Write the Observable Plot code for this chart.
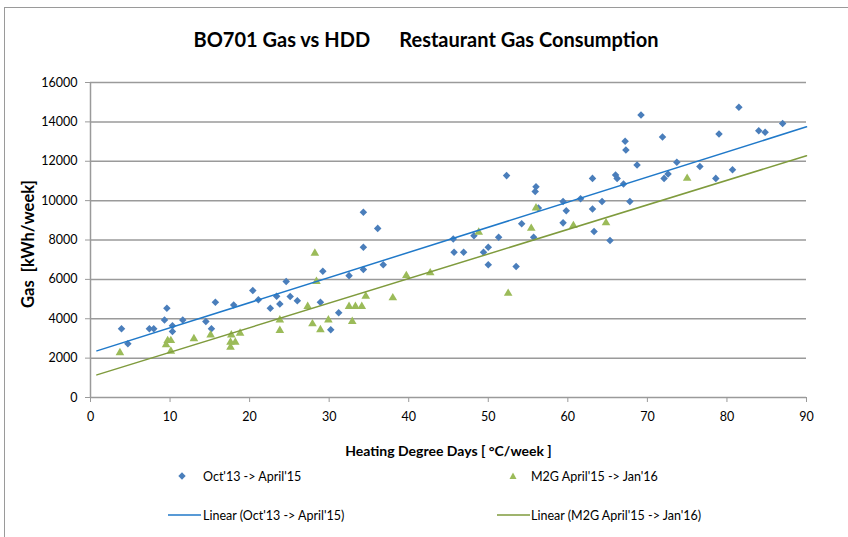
<!DOCTYPE html>
<html>
<head>
<meta charset="utf-8">
<script src="https://cdn.jsdelivr.net/npm/d3@7"></script>
<script src="https://cdn.jsdelivr.net/npm/@observablehq/plot@0.6"></script>
<style>
  body { margin: 0; background: #fff; }
  #wrap { position: relative; width: 848px; height: 537px; overflow: hidden; font-family: Lato, "Open Sans", sans-serif; }
  #frame { position: absolute; left: 4px; top: 7px; width: 900px; height: 600px; border-left: 1.5px solid #9a9a9a; border-top: 1.5px solid #9a9a9a; }
  #chart { position: absolute; left: 0; top: 0; }
  #title { position: absolute; top: 27px; left: 0; width: 852px; text-align: center; font-weight: bold; font-size: 20px; white-space: pre; color: #000; }
  .leg { position: absolute; font-size: 12.5px; color: #000; white-space: pre; line-height: 14px; }
  .legsym { position: absolute; }
</style>
</head>
<body>
<div id="wrap">
  <div id="frame"></div>
  <div id="chart"></div>
  <div id="title">BO701 Gas vs HDD      Restaurant Gas Consumption</div>
</div>
<script>
// ---- data ----
const blueX = [3.9,4.7,7.4,7.95,9.3,9.6,10.3,10.3,11.6,14.5,15.2,15.7,18.0,20.4,21.1,22.6,23.4,23.8,24.6,25.1,26.0,28.9,29.2,30.2,31.2,32.5,34.3,34.3,34.3,36.1,36.8,45.6,45.7,46.9,48.2,49.4,50.0,50.0,51.3,52.3,53.5,54.2,55.7,55.9,56.0,56.3,59.4,59.8,59.4,61.6,63.1,63.1,63.3,64.3,65.3,66.0,66.2,67.0,67.2,67.3,67.8,68.7,69.2,71.9,72.1,72.6,73.7,76.6,78.6,79.0,80.7,81.5,84.0,84.8,87.0];
const blueY = [3490,2730,3490,3490,3940,4530,3650,3350,3940,3860,3490,4840,4700,5430,4970,4530,5140,4750,5890,5130,4920,4840,6410,3440,4310,6190,7630,6500,9410,8590,6740,8050,7380,7380,8220,7380,7630,6740,8140,11270,6650,8820,8140,10460,10710,9630,9950,9490,8870,10090,11130,9580,8430,9950,7970,11300,11130,10850,13010,12570,9950,11810,14350,13230,11130,11350,11950,11730,11130,13380,11570,14740,13550,13470,13920];
const greenX = [3.7,9.5,9.7,10.1,10.1,13.0,15.1,17.6,17.6,17.7,18.2,18.8,23.8,23.8,27.3,27.9,28.2,28.4,28.9,29.9,32.5,32.9,33.3,34.1,34.6,38.0,39.7,42.7,48.8,52.5,55.4,56.0,60.7,64.8,75.0];
const greenY = [2270,2680,2890,2890,2350,2980,3180,2810,2550,3180,2810,3260,3940,3400,4620,3740,7330,5890,3440,3940,4620,3860,4620,4620,5140,5060,6190,6330,8390,5290,8590,9630,8730,8870,11130];
// trendline endpoints as drawn
const trendX = [0.8, 90];
const blueTrendY = [2370, 13750];
const greenTrendY = [1150, 12280];
const xTicks = [0,10,20,30,40,50,60,70,80,90];
const yTicks = [0,2000,4000,6000,8000,10000,12000,14000,16000];
const seriesNames = ["Oct'13 -> April'15", "M2G April'15 -> Jan'16"];
const trendNames = ["Linear (Oct'13 -> April'15)", "Linear (M2G April'15 -> Jan'16)"];

const blueColor = "#4a7ebb", greenColor = "#9bbb59";
const blueLine = "#2079c9", greenLine = "#7f9b3d";

const blue = blueX.map((x, i) => ({x, y: blueY[i]}));
const green = greenX.map((x, i) => ({x, y: greenY[i]}));
const bt = trendX.map((x, i) => ({x, y: blueTrendY[i]}));
const gt = trendX.map((x, i) => ({x, y: greenTrendY[i]}));

const chart = Plot.plot({
  width: 848,
  height: 537,
  marginLeft: 90,
  marginRight: 42,
  marginTop: 82,
  marginBottom: 140,
  style: {fontFamily: "Lato, 'Open Sans', sans-serif", fontSize: "12.5px", color: "#000", background: "transparent"},
  x: {domain: [0, 90], ticks: xTicks},
  y: {domain: [0, 16000], ticks: yTicks},
  marks: [
    Plot.ruleY(yTicks.filter(d => d > 0), {stroke: "#9a9a9a", strokeWidth: 1.5}),
    Plot.ruleX([0], {stroke: "#9a9a9a", strokeWidth: 1.5}),
    Plot.ruleY([0], {stroke: "#9a9a9a", strokeWidth: 1.5}),
    Plot.axisX({ticks: xTicks, tickSize: 5, tickPadding: 10, stroke: "#9a9a9a", fill: "#000", label: null, tickFormat: d => String(d)}),
    Plot.axisY({ticks: yTicks, tickSize: 5, tickPadding: 8, stroke: "#9a9a9a", fill: "#000", label: null, tickFormat: d => String(d)}),
    Plot.dot(blue, {x: "x", y: "y", symbol: "square", r: 3, rotate: 45, fill: blueColor, stroke: "none"}),
    Plot.dot(green, {x: "x", y: "y", symbol: "triangle", r: 3.2, fill: greenColor, stroke: "none"}),
    Plot.line(bt, {x: "x", y: "y", stroke: blueLine, strokeWidth: 1.5}),
    Plot.line(gt, {x: "x", y: "y", stroke: greenLine, strokeWidth: 1.5}),
    Plot.text(["Heating Degree Days [ °C/week ]"], {frameAnchor: "bottom", dy: 58, textAnchor: "middle", fontWeight: "bold", fontSize: 14, fill: "#000"}),
    Plot.text(["Gas  [kWh/week]"], {frameAnchor: "left", textAnchor: "middle", dx: -62, dy: 4, rotate: -90, fontWeight: "bold", fontSize: 16.5, fill: "#000"})
  ]
});
document.getElementById("chart").appendChild(chart);

// legend
const wrap = document.getElementById("wrap");
function addText(txt, left, cy) {
  const d = document.createElement("div");
  d.className = "leg"; d.textContent = txt;
  d.style.left = left + "px"; d.style.top = (cy - 7) + "px";
  wrap.appendChild(d);
}
function addSym(svgInner, left, top, w, h) {
  const ns = "http://www.w3.org/2000/svg";
  const s = document.createElementNS(ns, "svg");
  s.setAttribute("width", w); s.setAttribute("height", h);
  s.setAttribute("class", "legsym");
  s.style.left = left + "px"; s.style.top = top + "px";
  s.innerHTML = svgInner;
  wrap.appendChild(s);
}
addSym(`<rect x="-2.6" y="-2.6" width="5.2" height="5.2" transform="translate(4,4) rotate(45)" fill="${blueColor}"/>`, 178, 472, 8, 8);
addText(seriesNames[0], 203, 477);
addSym(`<path d="M4,0.5 L7.5,7 L0.5,7 Z" fill="${greenColor}"/>`, 509, 472, 8, 8);
addText(seriesNames[1], 531, 477);
addSym(`<line x1="0" y1="2" x2="33" y2="2" stroke="${blueLine}" stroke-width="1.5"/>`, 168, 513, 34, 4);
addText(trendNames[0], 203, 516);
addSym(`<line x1="0" y1="2" x2="33" y2="2" stroke="${greenLine}" stroke-width="1.5"/>`, 497, 513, 34, 4);
addText(trendNames[1], 531, 516);
</script>
</body>
</html>
